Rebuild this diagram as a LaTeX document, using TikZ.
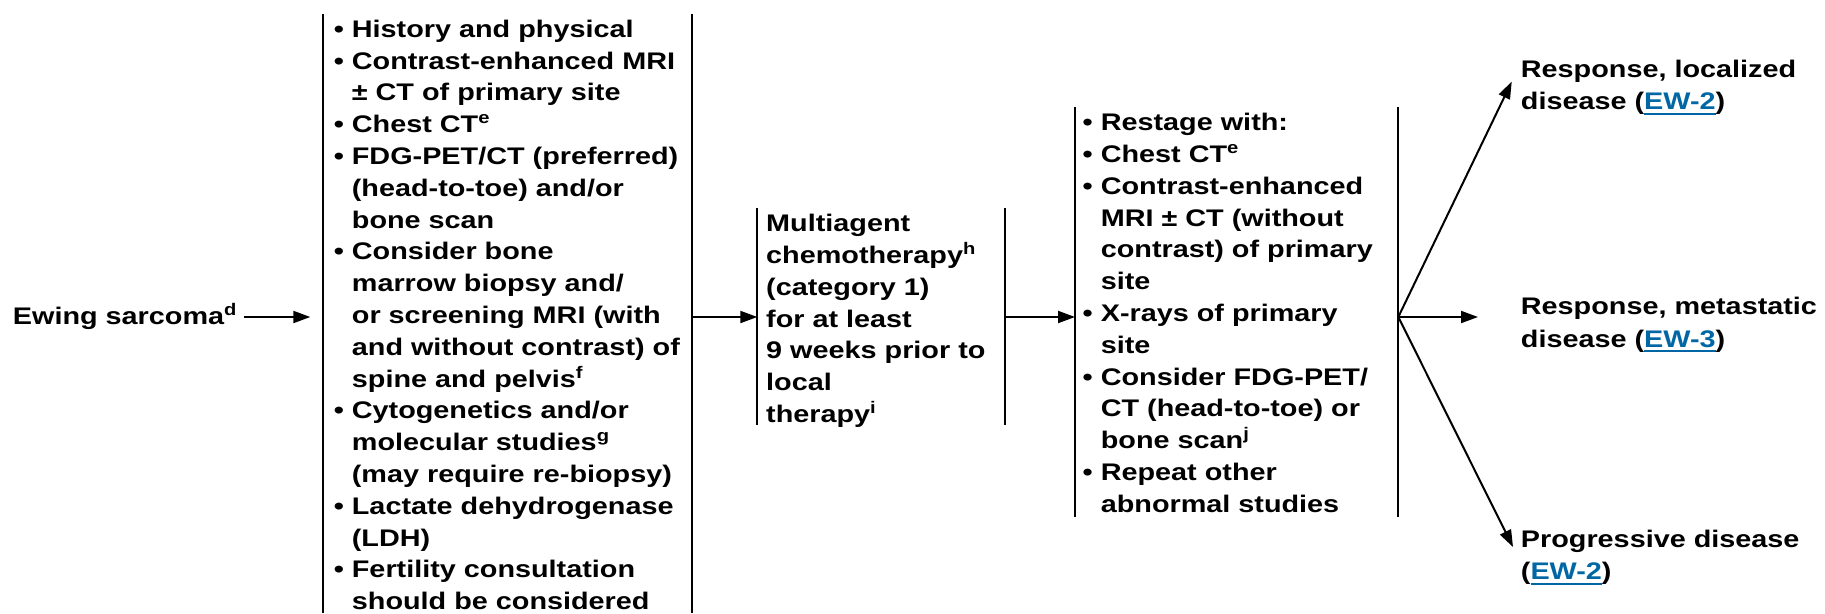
\documentclass[tikz,border=0pt]{standalone}
\usepackage{fontspec}
\setmainfont[FakeStretch=1.2]{Liberation Sans}
\usetikzlibrary{arrows.meta}
\definecolor{linkblue}{RGB}{0,103,164}
\newcommand\bi[1]{\hbox{\makebox[18.1pt][l]{•}#1}}
\newcommand\ci[1]{\hbox{\hspace*{18.1pt}#1}}
\newcommand\li[1]{\hbox{#1}}
\newcommand\lnk[1]{\textcolor{linkblue}{\setbox0\hbox{#1}\rlap{\rule[-5pt]{\wd0}{1.8pt}}\box0}}
\begin{document}
\begin{tikzpicture}[x=1pt,y=-1pt,
  txt/.style={anchor=base west,inner sep=0pt,font=\fontsize{24}{31.8}\selectfont\bfseries},
  bar/.style={line width=2.2pt},
  arr/.style={line width=2pt,-{Triangle[length=17pt,width=12pt]}},
  frame/.style={inner sep=0pt,outer sep=0pt,anchor=north west}]
\useasboundingbox (0,0) rectangle (1825,613);
% frames (two vertical bars each)
\node[frame,minimum width=368.4pt,minimum height=599pt] (b1) at (323.3,14) {};
\node[frame,minimum width=247.7pt,minimum height=216.7pt] (b2) at (757.3,208.3) {};
\node[frame,minimum width=323.3pt,minimum height=409.7pt] (b3) at (1075,107.3) {};
\foreach \b in {b1,b2,b3}{
  \draw[bar] (\b.north west) -- (\b.south west) (\b.north east) -- (\b.south east);
}
% texts
\node[txt] (ew) at (12.7,324.3) {Ewing sarcoma\textsuperscript{d}};
\node[txt] (t1) at (333.6,37.3) {\vtop{%
  \bi{History and physical}%
  \bi{Contrast-enhanced MRI}%
  \ci{± CT of primary site}%
  \bi{Chest CT\textsuperscript{e}}%
  \bi{FDG-PET/CT (preferred)}%
  \ci{(head-to-toe) and/or}%
  \ci{bone scan}%
  \bi{Consider bone}%
  \ci{marrow biopsy and/}%
  \ci{or screening MRI (with}%
  \ci{and without contrast) of}%
  \ci{spine and pelvis\textsuperscript{f}}%
  \bi{Cytogenetics and/or}%
  \ci{molecular studies\textsuperscript{g}}%
  \ci{(may require re-biopsy)}%
  \bi{Lactate dehydrogenase}%
  \ci{(LDH)}%
  \bi{Fertility consultation}%
  \ci{should be considered}}};
\node[txt] (t2) at (766,231.7) {\vtop{%
  \li{Multiagent}%
  \li{chemotherapy\textsuperscript{h}}%
  \li{(category 1)}%
  \li{for at least}%
  \li{9 weeks prior to}%
  \li{local}%
  \li{therapy\textsuperscript{i}}}};
\node[txt] (t3) at (1082.5,130.7) {\vtop{%
  \bi{Restage with:}%
  \bi{Chest CT\textsuperscript{e}}%
  \bi{Contrast-enhanced}%
  \ci{MRI ± CT (without}%
  \ci{contrast) of primary}%
  \ci{site}%
  \bi{X-rays of primary}%
  \ci{site}%
  \bi{Consider FDG-PET/}%
  \ci{CT (head-to-toe) or}%
  \ci{bone scan\textsuperscript{j}}%
  \bi{Repeat other}%
  \ci{abnormal studies}}};
\node[txt] (r1) at (1520.7,77.3) {\vtop{\baselineskip=32.5pt
  \li{Response, localized}%
  \li{disease (\lnk{EW-2})}}};
\node[txt] (r2) at (1520.7,314.7) {\vtop{\baselineskip=32.5pt
  \li{Response, metastatic}%
  \li{disease (\lnk{EW-3})}}};
\node[txt] (r3) at (1520.7,547) {\vtop{\baselineskip=32.5pt
  \li{Progressive disease}%
  \li{(\lnk{EW-2})}}};
% connectors
\coordinate (y0) at (0,317);
\draw[arr,shorten <=7pt,shorten >=13pt] (ew.east |- y0) -- (b1.west |- y0);
\draw[arr] (b1.east |- y0) -- (b2.west |- y0);
\draw[arr] (b2.east |- y0) -- (b3.west |- y0);
\draw[arr] (b3.east |- y0) -- ([xshift=-9pt,yshift=-4.4pt]r1.base west);
\draw[arr] (b3.east |- y0) -- ([xshift=-42.7pt]r2.base west |- y0);
\draw[arr] (b3.east |- y0) -- ([xshift=-7.7pt]r3.base west);
\end{tikzpicture}
\end{document}
